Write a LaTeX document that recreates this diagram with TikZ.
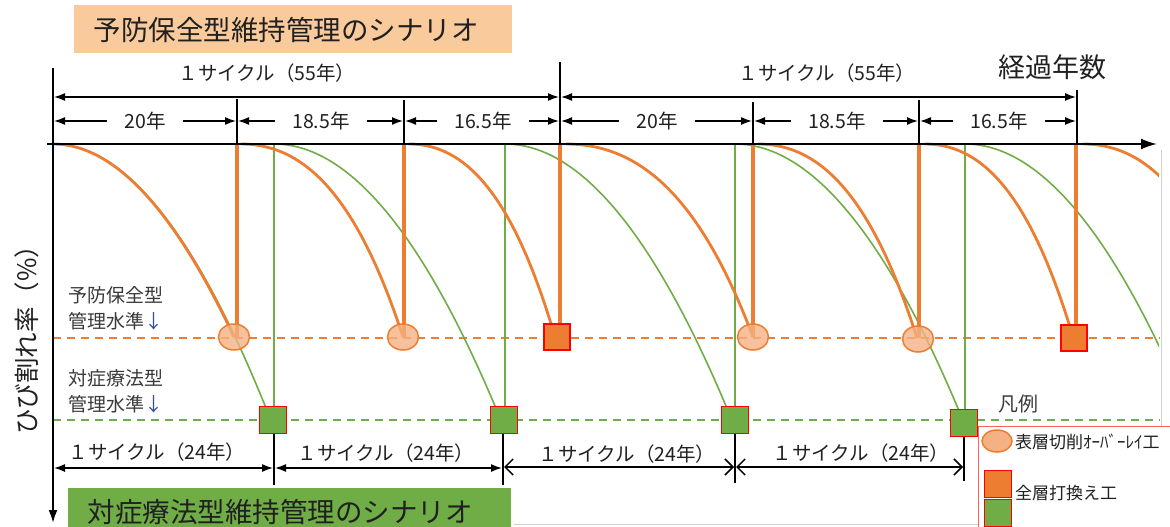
\documentclass[tikz,border=0pt]{standalone}
\usepackage{fontspec}
\setmainfont{Noto Sans CJK JP}
\usetikzlibrary{arrows.meta,shapes.geometric}
\definecolor{orl}{HTML}{ED7D31}
\definecolor{orf}{HTML}{F4B183}
\definecolor{grn}{HTML}{70AD47}
\definecolor{peach}{HTML}{F9CB9C}
\definecolor{txt}{HTML}{202020}
\definecolor{lbl}{HTML}{3A3A3A}
\definecolor{navy}{HTML}{2F4F9F}
\definecolor{gry}{HTML}{D0D0D0}
\definecolor{redl}{HTML}{FF6060}
\tikzset{fa/.tip={Latex[length=11pt,width=8pt]}, oa/.tip={Straight Barb[length=8pt,width=16pt]}}
\newcommand\ocurve[4]{%
  \pgfmathsetmacro\cax{#1+0.4*(#3-#1)}%
  \pgfmathsetmacro\cbx{#1+0.72*(#3-#1)}%
  \pgfmathsetmacro\cby{#2+0.28*(#4-#2)}%
  \draw[oline] (#1,#2) .. controls (\cax,#2) and (\cbx,\cby) .. (#3,#4);}
\newcommand\pcurve[5]{%
  \pgfmathsetmacro\cax{#2+(#4-#2)/3}%
  \pgfmathsetmacro\cbx{#2+2*(#4-#2)/3}%
  \pgfmathsetmacro\cby{#3+(#5-#3)/3}%
  \draw[#1] (#2,#3) .. controls (\cax,#3) and (\cbx,\cby) .. (#4,#5);}
\begin{document}
\begin{tikzpicture}[x=1pt,y=-1pt,
  every node/.style={inner sep=0pt, text=txt},
  fsz/.style={font=\fontsize{#1}{#1}\selectfont},
  axisline/.style={black, line width=2pt},
  tickline/.style={black, line width=2.8pt},
  dimline/.style={black, line width=1.5pt},
  oline/.style={orl, line width=2.8pt},
  gline/.style={grn, line width=1.6pt},
  overt/.style={orl, line width=3.2pt},
  gvert/.style={grn, line width=1.8pt},
  oval/.style={ellipse, draw=orl, fill=orf, line width=1.5pt, minimum width=31pt, minimum height=26pt, fill opacity=0.8},
  osq/.style={rectangle, draw=red, fill=orl, line width=1.8pt, minimum size=26pt},
  gsq/.style={rectangle, draw=red, fill=grn, line width=1.8pt, minimum size=27pt},
  dimtxt/.style={fsz=19.5, fill=white, inner xsep=17pt, inner ysep=3pt}
]
\useasboundingbox (0,0) rectangle (1170,527);

% title boxes
\fill[peach] (74,5) rectangle (512,53);
\node[fsz=27.5] (ttop) at (286,30) {予防保全型維持管理のシナリオ};
\fill[grn] (68,488) rectangle (511,540);
\node[fsz=27.5] (tbot) at (280,512) {対症療法型維持管理のシナリオ};

% gray frame lines
\draw[gry, line width=1pt] (1161,150) -- (1161,426);
\draw[gry, line width=1pt] (514,524) -- (978,524);

% level lines
\draw[orl, line width=1.6pt, dash pattern=on 8pt off 6pt] (53,338) -- (1160,338);
\draw[grn, line width=1.6pt, dash pattern=on 8pt off 6pt] (53,420) -- (1160,420);

% curves
\begin{scope}
\clip (0,0) rectangle (1159,527);
\pcurve{gline}{53}{144}{270}{418}
\pcurve{gline}{274}{144}{500}{418}
\pcurve{gline}{505}{144}{731}{418}
\pcurve{gline}{735}{144}{962}{418}
\pcurve{gline}{965}{144}{1191}{418}
\draw[gvert] (274,144) -- (274,420);
\draw[gvert] (505,144) -- (505,420);
\draw[gvert] (735,144) -- (735,420);
\draw[gvert] (965,144) -- (965,420);
\pcurve{oline}{53}{144}{234}{337}
\ocurve{241}{144}{403}{337}
\ocurve{409}{144}{555}{337}
\ocurve{566}{144}{753}{337}
\ocurve{758}{144}{917}{338}
\ocurve{925}{144}{1073}{337}
\ocurve{1083}{144}{1245}{337}
\draw[overt] (237,144) -- (237,337);
\draw[overt] (404,144) -- (404,337);
\draw[overt] (560,144) -- (560,337);
\draw[overt] (753,144) -- (753,337);
\draw[overt] (919,144) -- (919,338);
\draw[overt] (1076,144) -- (1076,338);
\end{scope}

% bottom ticks
\draw[tickline] (274,433) -- (274,485);
\draw[tickline] (503,433) -- (503,485);
\draw[tickline] (735,433) -- (735,483);
\draw[tickline] (964,437) -- (964,481);

% markers
\node[oval] (c1) at (234,337) {};
\node[oval] (c2) at (403,337) {};
\node[oval] (c3) at (753,337) {};
\node[oval] (c4) at (918,339) {};
\node[osq] (s1) at (557,337) {};
\node[osq] (s2) at (1074,338) {};
\node[gsq] (g1) at (273,420) {};
\node[gsq] (g2) at (504,420) {};
\node[gsq] (g3) at (735,420) {};
\node[gsq] (g4) at (964,423) {};

% axes
\draw[axisline, -{Latex[length=13pt,width=9pt]}] (53,68) -- (53,523);
\draw[axisline, -{Latex[length=16pt,width=11pt]}] (47,144) -- (1157,144);

% top ticks
\draw[tickline] (237,99) -- (237,144);
\draw[tickline] (404,100) -- (404,144);
\draw[tickline] (560,62) -- (560,144);
\draw[tickline] (753,102) -- (753,144);
\draw[tickline] (919,100) -- (919,144);
\draw[tickline] (1077,90) -- (1077,144);

% long dims
\draw[dimline, {fa}-{fa}] (54,97) -- (559,97);
\draw[dimline, {fa}-{fa}] (561,97) -- (1076,97);
\node[fsz=19.5] (cyc1) at (267,73) {１サイクル（55年）};
\node[fsz=19.5] (cyc2) at (827,73) {１サイクル（55年）};
\node[fsz=27] (elap) at (1052,67) {経過年数};

% short dims
\draw[dimline, {fa}-{fa}] (54,121) -- (236,121);
\draw[dimline, {fa}-{fa}] (238,121) -- (403,121);
\draw[dimline, {fa}-{fa}] (405,121) -- (559,121);
\draw[dimline, {fa}-{fa}] (561,121) -- (752,121);
\draw[dimline, {fa}-{fa}] (754,121) -- (918,121);
\draw[dimline, {fa}-{fa}] (920,121) -- (1076,121);
\node[dimtxt] (d1) at (145,121) {20年};
\node[dimtxt] (d2) at (321,121) {18.5年};
\node[dimtxt] (d3) at (483,121) {16.5年};
\node[dimtxt] (d4) at (657,121) {20年};
\node[dimtxt] (d5) at (837,121) {18.5年};
\node[dimtxt] (d6) at (999,121) {16.5年};

% y label
\node[fsz=25.5, rotate=90] (ylab) at (27,334) {ひび割れ率（\%）};

% level labels
\node[fsz=19, anchor=west, text=lbl] (l1) at (68,295) {予防保全型};
\node[fsz=19, anchor=west, text=lbl] (l2) at (68,321) {管理水準\textcolor{navy}{↓}};
\node[fsz=19, anchor=west, text=lbl] (l3) at (68,378) {対症療法型};
\node[fsz=19, anchor=west, text=lbl] (l4) at (68,404) {管理水準\textcolor{navy}{↓}};

% bottom dims
\draw[dimline, {fa}-{fa}] (54,468) -- (273,468);
\draw[dimline, {fa}-{fa}] (275,468) -- (502,468);
\draw[dimline, {oa}-{oa}] (504,467) -- (734,467);
\draw[dimline, {oa}-{oa}] (736,467) -- (963,467);
\node[fsz=19.5] (b1) at (157,452) {１サイクル（24年）};
\node[fsz=19.5] (b2) at (386,453) {１サイクル（24年）};
\node[fsz=19.5] (b3) at (627,454) {１サイクル（24年）};
\node[fsz=19.5] (b4) at (861,453) {１サイクル（24年）};

% legend
\node[fsz=20, text=lbl] (leg) at (1018,404) {凡例};
\draw[redl, line width=1pt] (978,426) rectangle (1185,545);
\node[oval, minimum width=30pt, minimum height=22pt, fill opacity=1] (lc) at (997,441) {};
\node[fsz=17, anchor=west] (lt1) at (1015,442) {表層切削ｵｰﾊﾞｰﾚｲ工};
\node[osq, minimum size=27pt] (ls1) at (998,484) {};
\node[gsq, minimum size=27pt] (ls2) at (998,513) {};
\node[fsz=17, anchor=west] (lt2) at (1015,493) {全層打換え工};
\end{tikzpicture}
\end{document}
